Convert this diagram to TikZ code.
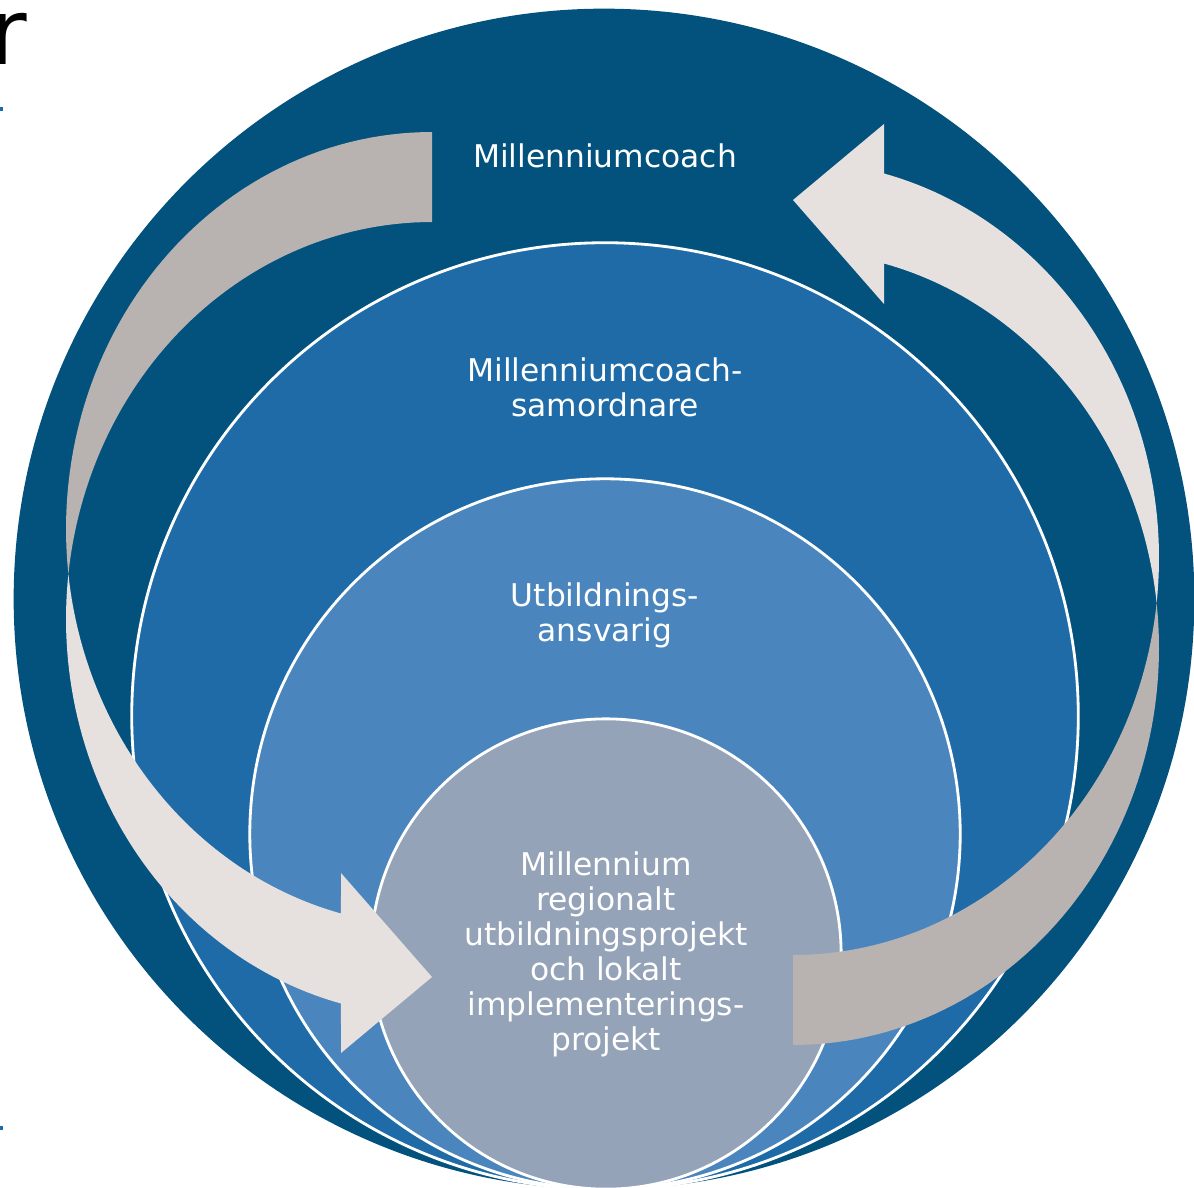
\documentclass[tikz,border=0pt]{standalone}
\usepackage{fontspec}
\setmainfont{DejaVu Sans}
\definecolor{outerblue}{HTML}{02527D}
\definecolor{secondblue}{HTML}{1F6BA7}
\definecolor{thirdblue}{HTML}{4A86BD}
\definecolor{innergray}{HTML}{94A3B7}
\definecolor{tailgray}{HTML}{B8B3B1}
\definecolor{headlight}{HTML}{E6E1DF}
\begin{document}
\begin{tikzpicture}[x=0.01cm,y=-0.01cm,
  ring/.style={draw=white, line width=0.8pt},
  lbl/.style={text=white, align=center, font=\fontsize{8.9}{9.96}\selectfont, inner sep=0pt}]
\useasboundingbox (0,0) rectangle (1194,1188);
\fill[white] (0,0) rectangle (1194,1188);
\clip (0,0) rectangle (1194,1188);
% nested circles
\fill[outerblue] (604,599) circle[radius=5.90cm];
\filldraw[fill=secondblue, ring] (605,716) circle[radius=4.73cm];
\filldraw[fill=thirdblue, ring] (605,834) circle[radius=3.55cm];
\filldraw[fill=innergray, ring] (606,954) circle[radius=2.35cm];
% curved arrows (left one, then the same rotated by 180 degrees)
\foreach \rot in {0,180}{
\begin{scope}[rotate around={\rot:(612.5,588.5)}]
\fill[tailgray] plot[domain=270:173.49, samples=60, variable=\t] ({432+366*cos(\t)},{529+397*sin(\t)})
  -- plot[domain=186.51:270, samples=60, variable=\t] ({432+366*cos(\t)},{619+397*sin(\t)}) -- cycle;
\fill[headlight] plot[domain=186.51:104.4, samples=60, variable=\t] ({432+366*cos(\t)},{619+397*sin(\t)})
  -- (341,1053) -- (432,977) -- (341,873)
  -- plot[domain=104.4:173.49, samples=60, variable=\t] ({432+366*cos(\t)},{529+397*sin(\t)}) -- cycle;
\end{scope}
}
% texts
\node[lbl] (t1) at (605,156) {Millenniumcoach};
\node[lbl] (t2) at (605,387) {Millenniumcoach-\\samordnare};
\node[lbl] (t3) at (605,615) {Utbildnings-\\ansvarig};
\node[lbl] (t4) at (606,954) {Millennium\\regionalt\\utbildningsprojekt\\och lokalt\\implementerings-\\projekt};
% slide remnants at the left edge
\node[anchor=base west, inner sep=0pt, font=\fontsize{26}{30}\selectfont] (rr) at (-11,65) {r};
\fill[secondblue] (0,107) rectangle (3,111);
\fill[secondblue] (0,1126) rectangle (3,1130);
\end{tikzpicture}
\end{document}
